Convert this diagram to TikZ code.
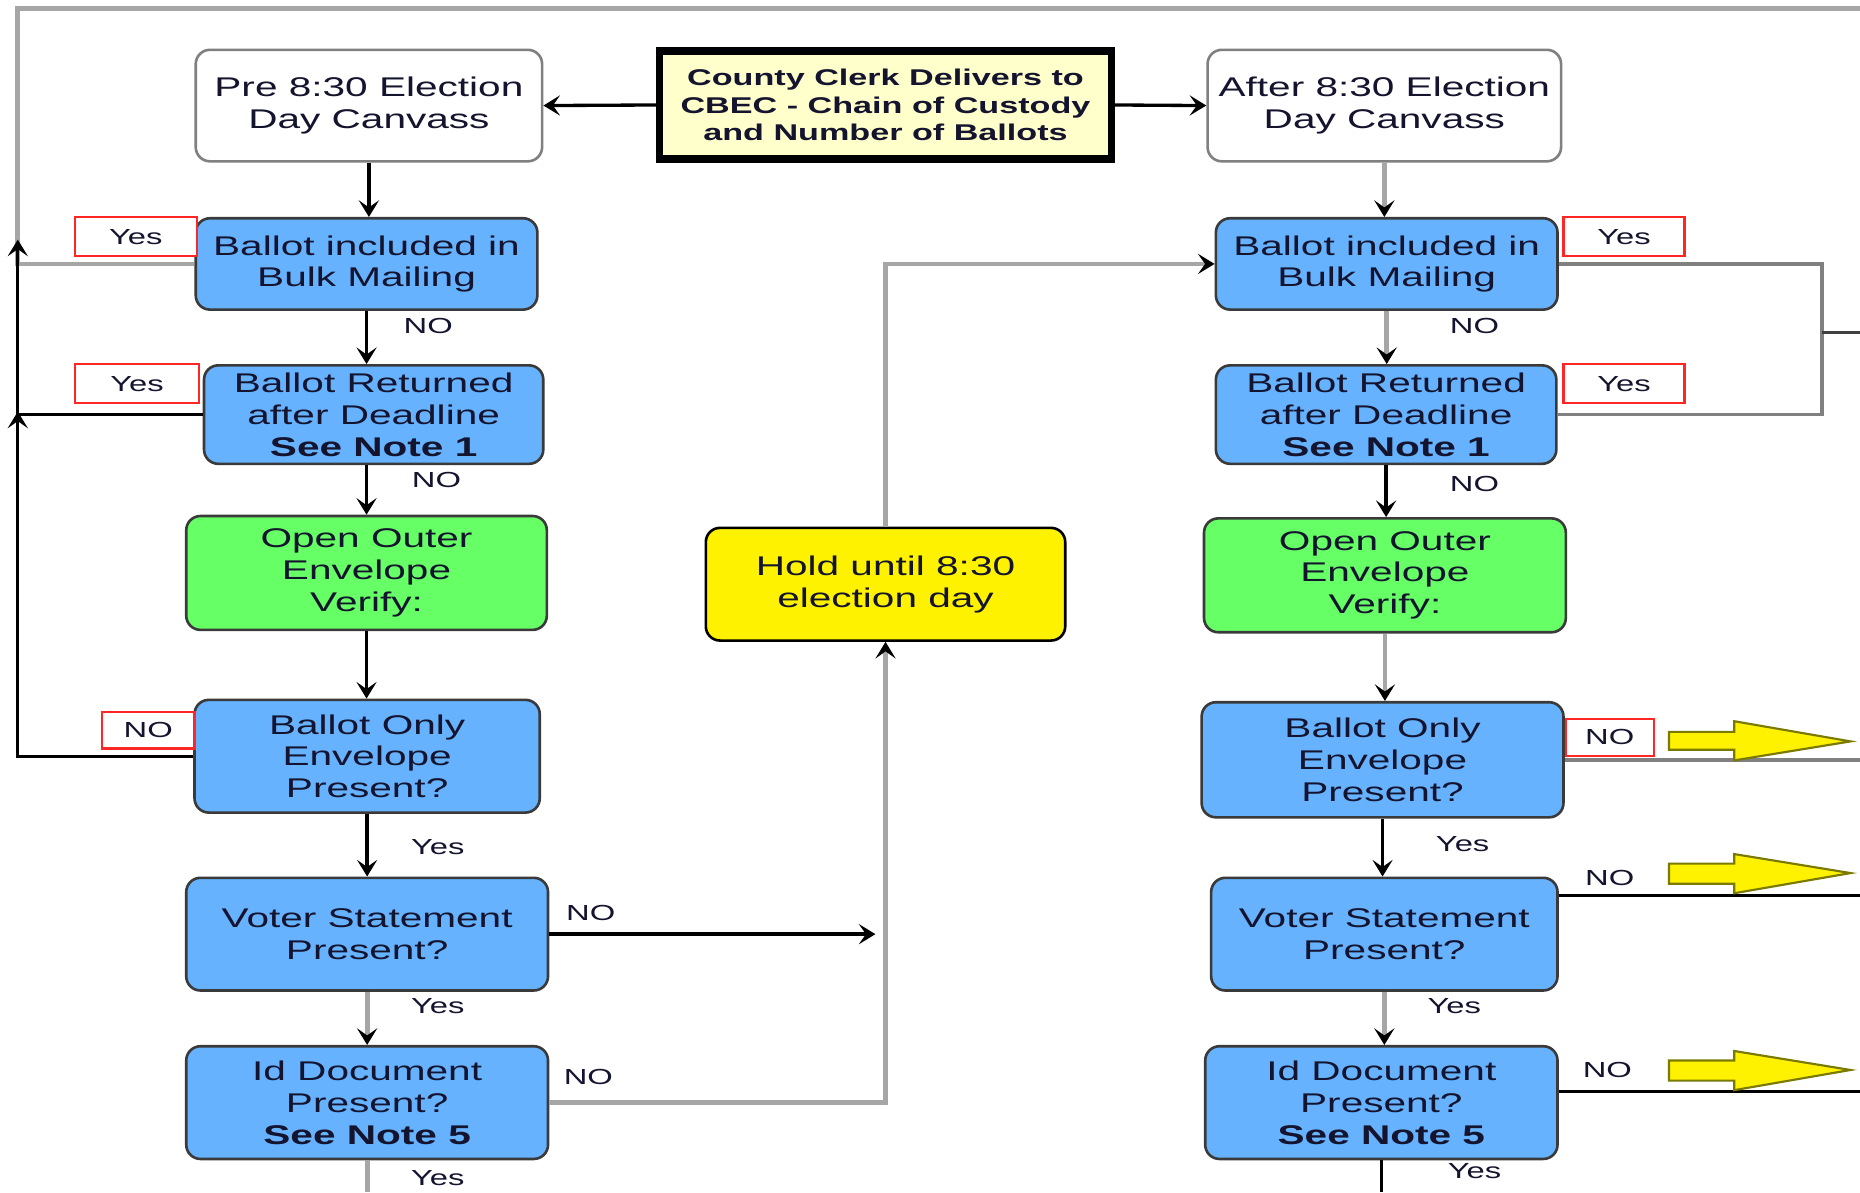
\documentclass[tikz,border=0pt]{standalone}
\usepackage{fontspec}
\setmainfont{Liberation Sans}[FakeStretch=1.5]
\usetikzlibrary{arrows.meta}
\definecolor{boxblue}{HTML}{66B2FF}
\definecolor{boxgreen}{HTML}{66FF66}
\definecolor{cream}{HTML}{FFFFCC}
\definecolor{textdark}{HTML}{14142E}
\definecolor{bordergray}{HTML}{3A3A3A}
\definecolor{linegray}{HTML}{A6A6A6}
\definecolor{olive}{HTML}{7A7A00}
\begin{document}
\begin{tikzpicture}[x=0.5pt,y=-0.5pt,
  base/.style={rounded corners=6pt, draw=bordergray, line width=1.1pt, align=center, inner sep=0pt,
     font=\fontsize{11.4}{13.4}\selectfont, text=textdark},
  bluebox/.style={base, fill=boxblue},
  greenbox/.style={base, fill=boxgreen},
  whitebox/.style={base, fill=white, draw=gray},
  holdbox/.style={base, fill=yellow, draw=black},
  clerkbox/.style={draw=black, line width=3pt, fill=cream, align=center, inner sep=0pt,
     font=\bfseries\fontsize{9.6}{11.5}\selectfont, text=textdark},
  lab/.style={font=\fontsize{9.2}{10}\selectfont, inner sep=0pt, text=textdark},
  redlab/.style={lab, draw=red!85!white, line width=0.9pt, fill=white},
  blk/.style={line width=1.4pt, black},
  gry/.style={line width=2pt, linegray},
  arr/.style={-{Stealth[length=7pt,width=8.5pt,inset=3pt,color=black]}},
  yarrow/.style={fill=yellow, draw=olive, line width=0.9pt, line join=miter}
]
\useasboundingbox (0,0) rectangle (1568,1005);
\fill[white] (0,0) rectangle (1568,1005);

% top nodes
\node[clerkbox, minimum width=190.5pt, minimum height=45.5pt] (Clerk) at (746.5,88.5)
  {County Clerk Delivers to\\CBEC - Chain of Custody\\and Number of Ballots};
\node[whitebox, minimum width=146pt, minimum height=47pt] (Pre) at (311,89) {Pre 8:30 Election\\Day Canvass};
\node[whitebox, minimum width=149pt, minimum height=47pt] (After) at (1167,89) {After 8:30 Election\\Day Canvass};

% left column
\node[bluebox, minimum width=144pt, minimum height=38.5pt] (BIL) at (309,222.5) {Ballot included in\\Bulk Mailing};
\node[bluebox, minimum width=143pt, minimum height=41.5pt] (BRL) at (315,349.5) {Ballot Returned\\after Deadline\\\textbf{See Note 1}};
\node[greenbox, minimum width=152pt, minimum height=48pt] (OOEL) at (309,483) {Open Outer\\Envelope\\Verify:};
\node[bluebox, minimum width=145.5pt, minimum height=47.5pt] (BOL) at (309.5,637.5) {Ballot Only\\Envelope\\Present?};
\node[bluebox, minimum width=152.5pt, minimum height=47.5pt] (VSL) at (309.5,787.5) {Voter Statement\\Present?};
\node[bluebox, minimum width=152.5pt, minimum height=47.5pt] (IDL) at (309.5,929.5) {Id Document\\Present?\\\textbf{See Note 5}};

% middle
\node[holdbox, minimum width=151.5pt, minimum height=47.5pt] (Hold) at (746.5,492.5) {Hold until 8:30\\election day};

% right column
\node[bluebox, minimum width=144pt, minimum height=38.5pt] (BIR) at (1169,222.5) {Ballot included in\\Bulk Mailing};
\node[bluebox, minimum width=143.5pt, minimum height=41.5pt] (BRR) at (1168.5,349.5) {Ballot Returned\\after Deadline\\\textbf{See Note 1}};
\node[greenbox, minimum width=152.5pt, minimum height=48pt] (OOER) at (1167.5,485) {Open Outer\\Envelope\\Verify:};
\node[bluebox, minimum width=152.5pt, minimum height=48.5pt] (BOR) at (1165.5,640.5) {Ballot Only\\Envelope\\Present?};
\node[bluebox, minimum width=146pt, minimum height=47.5pt] (VSR) at (1167,787.5) {Voter Statement\\Present?};
\node[bluebox, minimum width=148.5pt, minimum height=47.5pt] (IDR) at (1164.5,929.5) {Id Document\\Present?\\\textbf{See Note 5}};

% free-end coordinates
\coordinate (TL) at (15,7);
\coordinate (TR) at (1568,7);
\coordinate (UpA) at (15,202);
\coordinate (UpB) at (15,347);
\coordinate (VSend) at (738,787.5);
\coordinate (BotL) at (310,1005);
\coordinate (BotR) at (1166,1005);
\coordinate (RB) at (1536,280);
\coordinate (RE) at (1568,280);

% connectors: top
\draw[blk,arr] (Clerk.west) -- (Pre.east);
\draw[blk,arr] (Clerk.east) -- (After.west);

% left loops
\draw[gry] (BIL.west) -| (TL) -- (TR);
\draw[blk,arr] (BRL.west) -| (UpA);
\draw[blk,arr] (BOL.west) -| (UpB);

% left column flow
\draw[blk,arr] (Pre.south) -- (Pre.south |- BIL.north);
\draw[blk,arr] (BIL.south) -- (BIL.south |- BRL.north);
\draw[blk,arr] (BIL.south |- BRL.south) -- (BIL.south |- OOEL.north);
\draw[blk,arr] (OOEL.south) -- (OOEL.south |- BOL.north);
\draw[blk,arr] (BOL.south) -- (BOL.south |- VSL.north);
\draw[gry,arr] (VSL.south) -- (VSL.south |- IDL.north);
\draw[gry] (IDL.south) -- (IDL.south |- BotL);
\draw[blk,arr] (VSL.east) -- (VSend);
\draw[gry,arr] (IDL.east) -| (Hold.south);
\draw[gry,arr] (Hold.north) |- (BIR.west);

% right column flow
\draw[gry,arr] (After.south) -- (After.south |- BIR.north);
\draw[gry,arr] (BIR.south) -- (BIR.south |- BRR.north);
\draw[blk,arr] (BRR.south) -- (BRR.south |- OOER.north);
\draw[gry,arr] (OOER.south) -- (OOER.south |- BOR.north);
\draw[blk,arr] (BOR.south) -- (BOR.south |- VSR.north);
\draw[gry,arr] (VSR.south) -- (VSR.south |- IDR.north);
\draw[blk] (IDR.south) -- (IDR.south |- BotR);
\draw[line width=1.6pt, color=gray] (BIR.east) -| (RB) |- (BRR.east);
\draw[line width=1.3pt, color=darkgray] (RB) -- (RE);
\draw[line width=1.6pt, color=gray] (BOR.east) -- (BOR.east -| RE);
\draw[blk] ([yshift=16.25pt]VSR.east) -- ([yshift=16.25pt]VSR.east -| RE);
\draw[blk] ([yshift=4.75pt]IDR.east) -- ([yshift=4.75pt]IDR.east -| RE);

% red label boxes
\node[redlab, minimum width=51.5pt, minimum height=16.5pt] (YL1) at (114.5,199.5) {Yes};
\node[redlab, minimum width=52.5pt, minimum height=16.5pt] (YL2) at (115.5,323.5) {Yes};
\node[redlab, minimum width=39pt, minimum height=15.5pt] (NL1) at (125,615.5) {NO};
\node[redlab, minimum width=51pt, minimum height=16.5pt] (YR1) at (1369,199.5) {Yes};
\node[redlab, minimum width=51pt, minimum height=16.5pt] (YR2) at (1369,323.5) {Yes};
\node[redlab, minimum width=37pt, minimum height=15.5pt] (NR1) at (1357,621.5) {NO};

% plain labels
\node[lab] (l1) at (361,275) {NO};
\node[lab] (l2) at (368,405) {NO};
\node[lab] (l3) at (369,714) {Yes};
\node[lab] (l4) at (498,770) {NO};
\node[lab] (l5) at (369,848) {Yes};
\node[lab] (l6) at (496,908) {NO};
\node[lab] (l7) at (369,993) {Yes};
\node[lab] (r1) at (1243,275) {NO};
\node[lab] (r2) at (1243,408) {NO};
\node[lab] (r3) at (1233,712) {Yes};
\node[lab] (r4) at (1357,740) {NO};
\node[lab] (r5) at (1226,848) {Yes};
\node[lab] (r6) at (1355,902) {NO};
\node[lab] (r7) at (1243,987) {Yes};

% yellow block arrows
\draw[yarrow] (1407,617) -- (1462,617) -- (1462,608) -- (1560,625) -- (1462,641) -- (1462,632) -- (1407,632) -- cycle;
\draw[yarrow] (1407,728) -- (1462,728) -- (1462,720) -- (1560,736) -- (1462,753) -- (1462,745) -- (1407,745) -- cycle;
\draw[yarrow] (1407,894) -- (1462,894) -- (1462,886) -- (1560,902) -- (1462,919) -- (1462,911) -- (1407,911) -- cycle;
\end{tikzpicture}
\end{document}
